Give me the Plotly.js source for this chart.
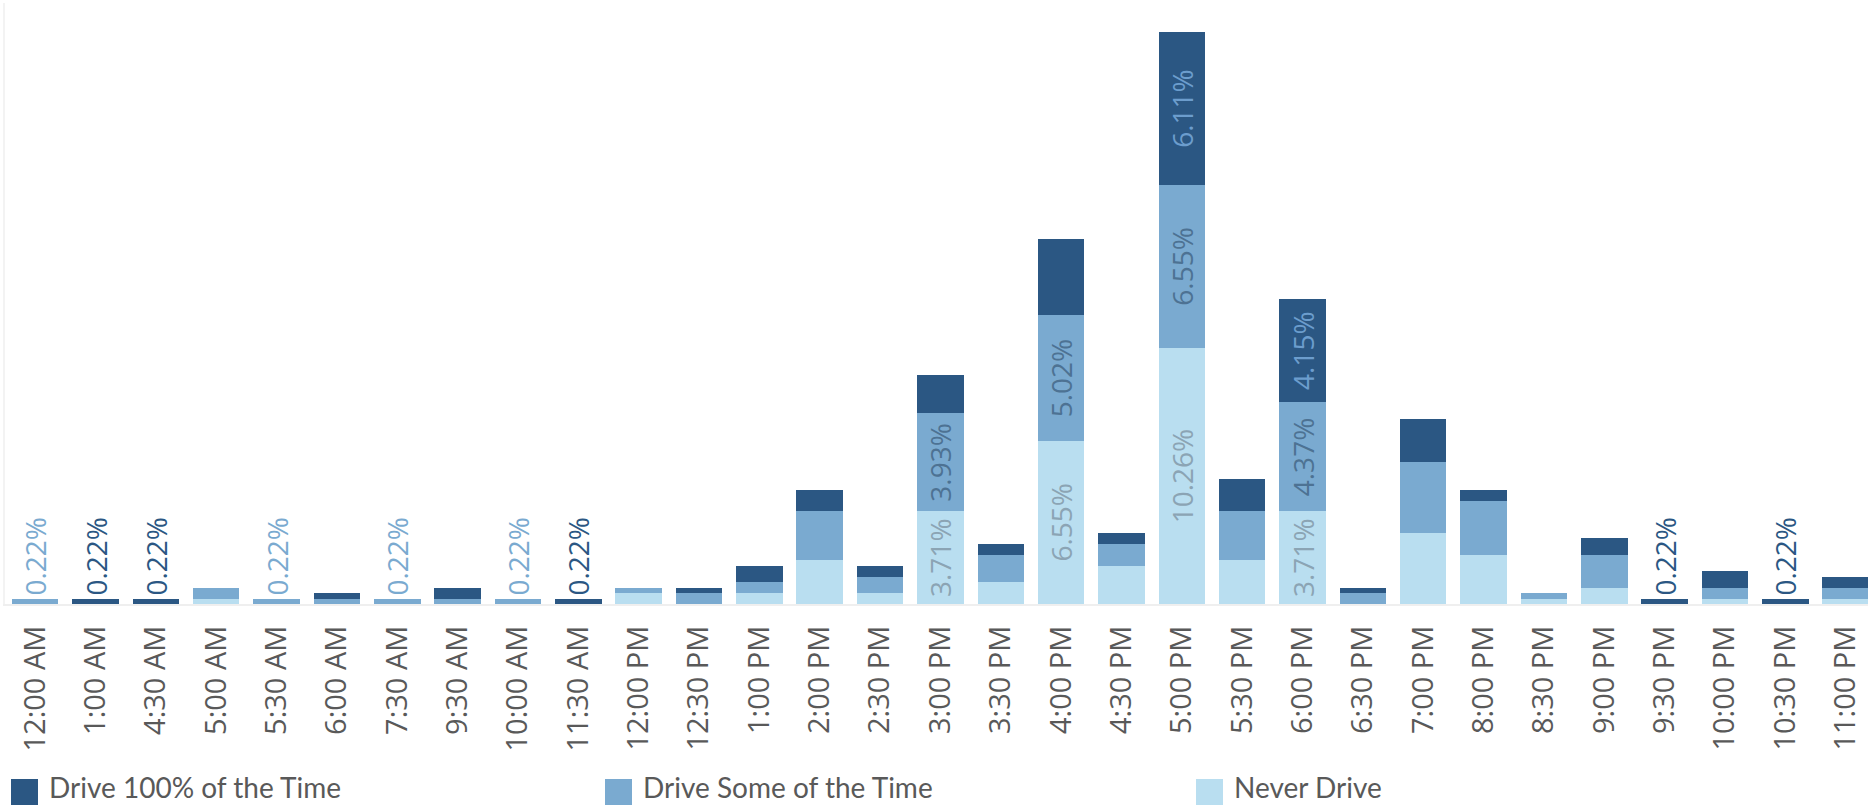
<!DOCTYPE html>
<html>
<head>
<meta charset="utf-8">
<script src="https://cdn.plot.ly/plotly-3.0.1.min.js"></script>
<style>
  html, body { margin: 0; padding: 0; background: #ffffff; }
  #chart { width: 1868px; height: 805px; }
</style>
</head>
<body>
<div id="chart"></div>
<script>
// ---------- data (percent of respondents) ----------
var categories = ["12:00 AM","1:00 AM","4:30 AM","5:00 AM","5:30 AM","6:00 AM","7:30 AM","9:30 AM","10:00 AM","11:30 AM",
  "12:00 PM","12:30 PM","1:00 PM","2:00 PM","2:30 PM","3:00 PM","3:30 PM","4:00 PM","4:30 PM","5:00 PM",
  "5:30 PM","6:00 PM","6:30 PM","7:00 PM","8:00 PM","8:30 PM","9:00 PM","9:30 PM","10:00 PM","10:30 PM","11:00 PM"];

var seriesNames = ["Drive 100% of the Time", "Drive Some of the Time", "Never Drive"];

var neverDrive = [0,0,0,0.22,0,0,0,0,0,0,
  0.44,0,0.44,1.75,0.44,3.71,0.87,6.55,1.53,10.26,
  1.75,3.71,0,2.84,1.97,0.22,0.66,0,0.22,0,0.22];

var driveSome = [0.22,0,0,0.44,0.22,0.22,0.22,0.22,0.22,0,
  0.22,0.44,0.44,1.97,0.66,3.93,1.09,5.02,0.87,6.55,
  1.97,4.37,0.44,2.84,2.18,0.22,1.31,0,0.44,0,0.44];

var driveAlways = [0,0.22,0.22,0,0,0.22,0,0.44,0,0.22,
  0,0.22,0.66,0.87,0.44,1.53,0.44,3.06,0.44,6.11,
  1.31,4.15,0.22,1.75,0.44,0,0.66,0.22,0.66,0.22,0.44];

// ---------- styling ----------
var COL_ALWAYS = "#2b5783";
var COL_SOME = "#7aaad0";
var COL_NEVER = "#b9def0";
var FONT = "'Open Sans', 'Noto Sans', sans-serif";
var LEG_FONT = "Lato, 'Open Sans', sans-serif";
var GREY = "#595959";

var W = 1868, H = 805;
var M = {l: 5, r: 0, t: 3, b: 201};
var plotW = W - M.l - M.r, plotH = H - M.t - M.b;
var catStep = 60.35;   // pixel width of one category slot
var pxPerPct = 24.94;  // pixel height of 1 percentage point

function totals(i) { return neverDrive[i] + driveSome[i] + driveAlways[i]; }

function labelsFor(vals) {
  var text = [], pos = [];
  for (var i = 0; i < vals.length; i++) {
    var v = vals[i];
    if (v >= 3.5) { text.push(v.toFixed(2) + "%"); pos.push("inside"); }
    else if (v > 0 && Math.abs(totals(i) - v) < 1e-9 && v < 0.3) { text.push(v.toFixed(2) + "%"); pos.push("outside"); }
    else { text.push(""); pos.push("none"); }
  }
  return {text: text, pos: pos};
}

function makeTrace(vals, name, color, insideColor) {
  var lab = labelsFor(vals);
  return {
    type: "bar",
    x: categories,
    y: vals,
    name: name,
    marker: {color: color, line: {width: 0}},
    text: lab.text,
    textposition: lab.pos,
    textangle: -90,
    insidetextanchor: "middle",
    constraintext: "none",
    cliponaxis: false,
    textfont: {family: FONT, size: 28},
    insidetextfont: {family: FONT, size: 28, color: insideColor},
    outsidetextfont: {family: FONT, size: 28, color: color},
    hoverinfo: "x+y+name",
    showlegend: false
  };
}

var traces = [
  makeTrace(neverDrive, seriesNames[2], COL_NEVER, "#8ba4b4"),
  makeTrace(driveSome, seriesNames[1], COL_SOME, "#4d7293"),
  makeTrace(driveAlways, seriesNames[0], COL_ALWAYS, "#6c9dcd")
];

// ---------- custom legend (large swatches) ----------
function pxX(px) { return (px - M.l) / plotW; }
function pxY(py) { return (H - M.b - py) / plotH; }

var legendItems = [
  {name: seriesNames[0], color: COL_ALWAYS, x: 11},
  {name: seriesNames[1], color: COL_SOME, x: 605},
  {name: seriesNames[2], color: COL_NEVER, x: 1196}
];
var shapes = [], annotations = [];
legendItems.forEach(function (it) {
  shapes.push({type: "rect", xref: "paper", yref: "paper",
    x0: pxX(it.x), x1: pxX(it.x + 27), y0: pxY(779), y1: pxY(812),
    fillcolor: it.color, line: {width: 0}});
  annotations.push({xref: "paper", yref: "paper", x: pxX(it.x + 36), y: pxY(806),
    xanchor: "left", yanchor: "bottom", showarrow: false, text: it.name,
    font: {family: LEG_FONT, size: 28, color: GREY}});
});

var layout = {
  width: W, height: H,
  margin: M,
  paper_bgcolor: "#ffffff",
  plot_bgcolor: "#ffffff",
  barmode: "stack",
  bargap: 0.23,
  showlegend: false,
  font: {family: FONT, color: GREY},
  xaxis: {
    type: "category",
    range: [-0.5, -0.5 + plotW / catStep],
    tickangle: -90,
    ticks: "",
    ticklabelstandoff: 8,
    tickfont: {family: FONT, size: 29, color: GREY},
    showline: true, linecolor: "#efefef", linewidth: 2,
    showgrid: false, zeroline: false, fixedrange: true
  },
  yaxis: {
    range: [0, plotH / pxPerPct],
    showticklabels: false, ticks: "",
    showgrid: false, zeroline: false,
    showline: true, linecolor: "#f3f3f3", linewidth: 1.5,
    fixedrange: true
  },
  shapes: shapes,
  annotations: annotations
};

Plotly.newPlot("chart", traces, layout, {displayModeBar: false, responsive: false});
</script>
</body>
</html>
